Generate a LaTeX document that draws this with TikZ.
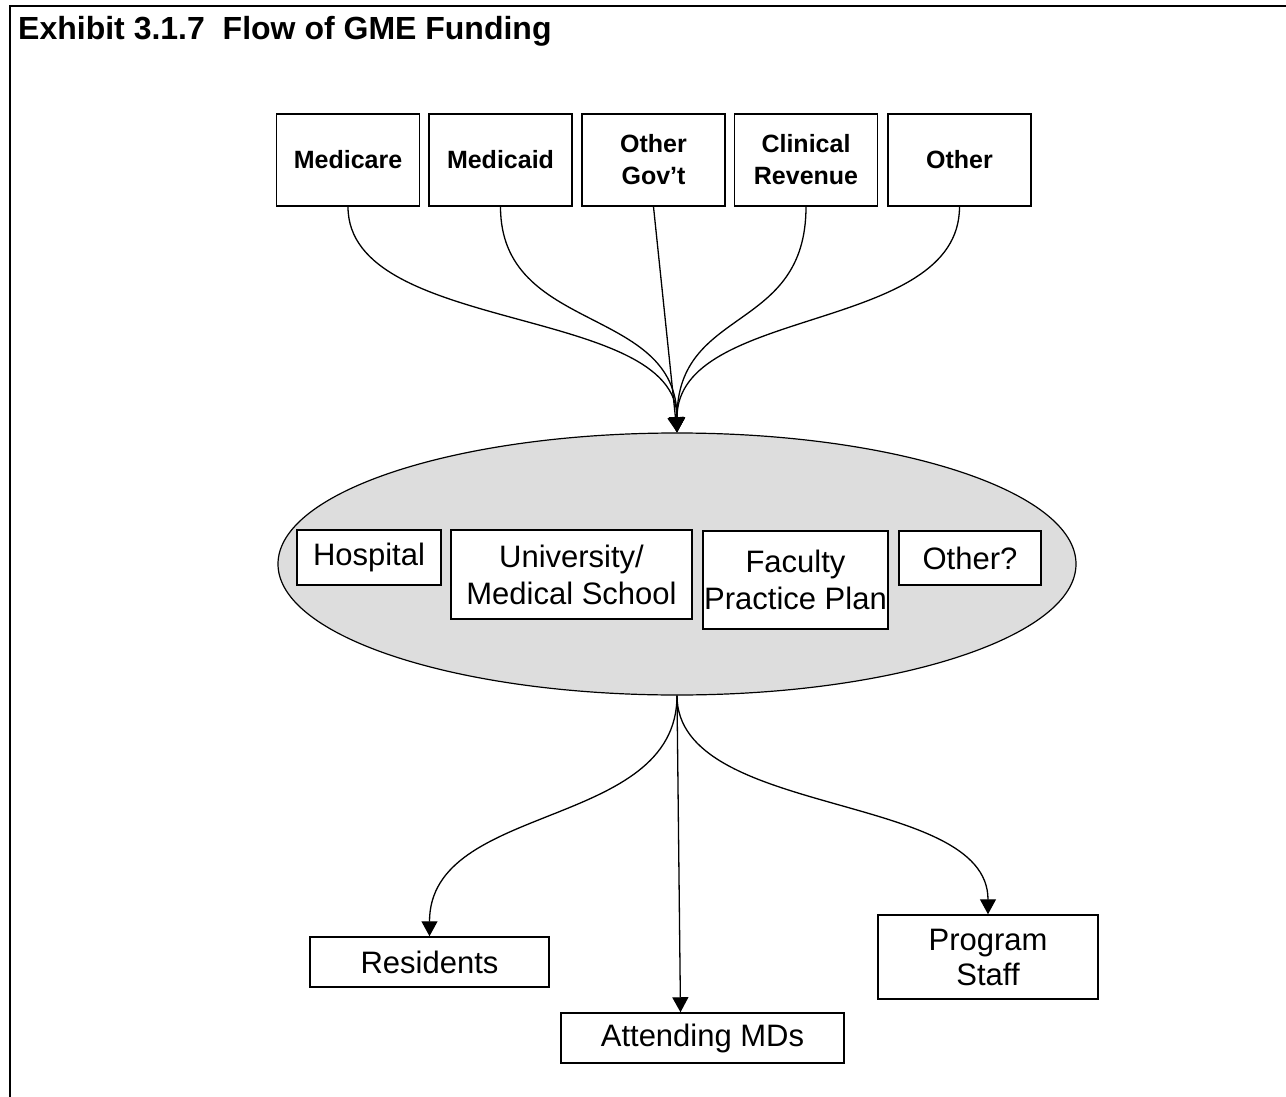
\documentclass[tikz,border=0pt]{standalone}
\usepackage{fontspec}
\setmainfont{Liberation Sans}
\usetikzlibrary{arrows.meta,shapes.geometric}
\definecolor{poolgray}{RGB}{221,221,221}

\begin{document}
\begin{tikzpicture}[x=1pt,y=-1pt,
    flow/.style={draw,line width=1.3pt,-{Triangle[length=15pt,width=16pt]}}]

      \useasboundingbox (0,0) rectangle (1286,1097);
      \draw[line width=2.5pt] (10,1097) -- (10,6) -- (1286,6);
      \node[anchor=base west,inner sep=0,font=\fontsize{32}{38}\selectfont\bfseries]
        (title) at (18,40) {Exhibit 3.1.7\ \ Flow of GME Funding};

      % the pool
      \node[ellipse,draw,fill=poolgray,line width=1.2pt,inner sep=0,
        minimum width=798pt,minimum height=262pt] (pool) at (677,564) {};

      % sources
      \begin{scope}[every node/.style={draw,line width=1.5pt,inner sep=0,align=center,
          minimum width=143pt,minimum height=92pt,font=\fontsize{25}{32}\selectfont\bfseries}]
        \node (mcare) at (348,160)   {Medicare};
        \node (mcaid) at (500.5,160) {Medicaid};
        \node (gov)   at (653.5,160) {Other\\Gov’t};
        \node (clin)  at (806,160)   {Clinical\\Revenue};
        \node (oth)   at (959.5,160) {Other};
      \end{scope}

      % inside the pool
      \begin{scope}[every node/.style={draw,fill=white,line width=1.5pt,inner sep=0,align=center,
          font=\fontsize{31}{37}\selectfont}]
        \node[minimum width=144pt,minimum height=55pt] (hosp) at (369,557.5) {Hospital};
        \node[minimum width=241pt,minimum height=89pt] (uni)  at (571.5,574.5) {University/\\Medical School};
        \node[minimum width=185pt,minimum height=98pt] (fac)  at (795.5,580) {Faculty\\Practice Plan};
        \node[minimum width=142pt,minimum height=54pt] (othq) at (970,558) {Other?};
      \end{scope}

      % recipients
      \begin{scope}[every node/.style={draw,line width=1.5pt,inner sep=0,align=center,
          font=\fontsize{31}{35}\selectfont}]
        \node[minimum width=239pt,minimum height=50pt] (res)  at (429.5,962) {Residents};
        \node[minimum width=283pt,minimum height=50pt] (att)  at (702.5,1038) {Attending MDs};
        \node[minimum width=220pt,minimum height=84pt] (prog) at (988,957) {Program\\Staff};
      \end{scope}

      \path (mcare.south) edge[flow,out=-90,in=90,looseness=.82] (pool.north);
      \path (mcaid.south) edge[flow,out=-90,in=90,looseness=1.14] (pool.north);
      \path (gov.south)   edge[flow] (pool.north);
      \path (clin.south)  edge[flow,out=-90,in=90,looseness=1.25] (pool.north);
      \path (oth.south)   edge[flow,out=-90,in=90,looseness=.9] (pool.north);

      \path (pool.south) edge[flow,out=-90,in=90] (res.north);
      \path (pool.south) edge[flow] ([xshift=-22pt]att.north);
      \path (pool.south) edge[flow,out=-90,in=90,looseness=.83] (prog.north);

    \end{tikzpicture}
\end{document}
